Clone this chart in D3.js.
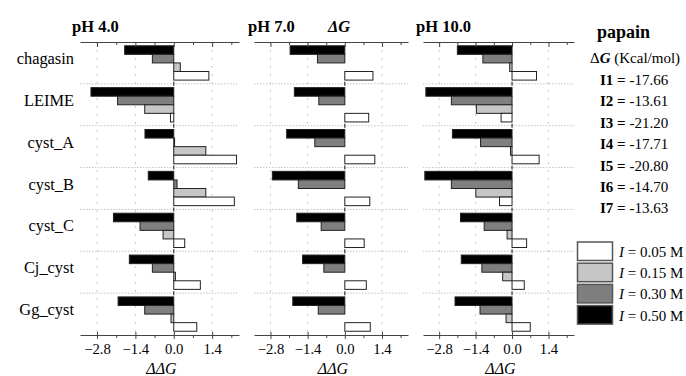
<!DOCTYPE html>
<html>
<head>
<meta charset="utf-8">
<script src="https://cdn.jsdelivr.net/npm/d3@7"></script>
<style>
  html, body { margin: 0; padding: 0; background: #fff; }
  svg { display: block; font-family: "Liberation Serif", "Times New Roman", serif; }
</style>
</head>
<body>
<svg id="chart" width="686" height="376"></svg>
<script>
// Inhibitor categories (top to bottom)
const categories = ["chagasin", "LEIME", "cyst_A", "cyst_B", "cyst_C", "Cj_cyst", "Gg_cyst"];
// Ionic strengths, in the order the bars stack inside each group
const ionicStrengths = ["0.50", "0.30", "0.15", "0.05"];
const panelTitles = ["pH 4.0", "pH 7.0", "pH 10.0"];
const majorTicks = [-2.8, -1.4, 0.0, 1.4];
const minorTicks = [-2.1, -0.7, 0.7, 2.1];

// ΔΔG values (kcal/mol), one array per pH and ionic strength
const pH4_050 = [-1.79, -3.02, -1.05, -0.93, -2.20, -1.62, -2.03];
const pH4_030 = [-0.78, -2.05, 0.03, 0.12, -1.23, -0.78, -1.06];
const pH4_015 = [0.24, -1.06, 1.17, 1.17, -0.39, 0.06, -0.10];
const pH4_005 = [1.28, -0.12, 2.29, 2.21, 0.40, 0.97, 0.84];

const pH7_050 = [-2.06, -1.90, -2.19, -2.73, -1.81, -1.59, -1.96];
const pH7_030 = [-1.03, -0.98, -1.13, -1.75, -0.89, -0.79, -1.00];
const pH7_015 = [0, 0, 0, 0, 0, 0, 0];
const pH7_005 = [1.06, 0.90, 1.13, 0.94, 0.73, 0.81, 0.96];

const pH10_050 = [-2.10, -3.31, -2.29, -3.35, -1.98, -1.95, -2.19];
const pH10_030 = [-1.12, -2.33, -1.21, -2.33, -1.07, -1.16, -1.23];
const pH10_015 = [-0.09, -1.37, -0.06, -1.39, -0.19, -0.36, -0.23];
const pH10_005 = [0.94, -0.42, 1.04, -0.48, 0.56, 0.47, 0.70];

// Binding free energies of papain with each inhibitor
const inhibitorLabels = ["I1", "I2", "I3", "I4", "I5", "I6", "I7"];
const bindingEnergies = ["-17.66", "-13.61", "-21.20", "-17.71", "-20.80", "-14.70", "-13.63"];

const panelSeries = [
  [pH4_050, pH4_030, pH4_015, pH4_005],
  [pH7_050, pH7_030, pH7_015, pH7_005],
  [pH10_050, pH10_030, pH10_015, pH10_005]
];

const fills = { "0.50": "#000000", "0.30": "#7f7f7f", "0.15": "#c6c6c6", "0.05": "#ffffff" };
const legendOrder = ["0.05", "0.15", "0.30", "0.50"];

const svg = d3.select("#chart");
const plotTop = 42, plotBottom = 335;
const panelRanges = [[80, 239], [254, 408], [423, 574]];
const titleX = [72, 248, 416];
const xDomain = [-3.42, 2.38];

const y = d3.scaleBand().domain(categories).range([plotTop, plotBottom]).padding(0);
const yInner = d3.scaleBand().domain(ionicStrengths).range([0, y.bandwidth()])
  .paddingInner(0).paddingOuter(0.44);

panelSeries.forEach((series, p) => {
  const x = d3.scaleLinear().domain(xDomain).range(panelRanges[p]);
  const g = svg.append("g");

  // horizontal dotted separators between groups
  g.selectAll("line.sep").data(categories.slice(1)).join("line")
    .attr("x1", x.range()[0]).attr("x2", x.range()[1])
    .attr("y1", d => y(d)).attr("y2", d => y(d))
    .attr("stroke", "#c4c4c4").attr("stroke-width", 1)
    .attr("stroke-dasharray", "1.5,1.5");

  // vertical dashed gridlines at the non-zero major ticks
  g.selectAll("line.vgrid").data(majorTicks.filter(t => t !== 0)).join("line")
    .attr("x1", d => x(d)).attr("x2", d => x(d))
    .attr("y1", plotTop).attr("y2", plotBottom)
    .attr("stroke", "#c8c8c8").attr("stroke-width", 1)
    .attr("stroke-dasharray", "2,6");

  // bars
  const rows = [];
  categories.forEach((c, i) => {
    ionicStrengths.forEach((s, k) => {
      rows.push({ cat: c, ion: s, value: series[k][i] });
    });
  });
  g.selectAll("rect.bar").data(rows.filter(r => r.value !== 0)).join("rect")
    .attr("x", d => Math.min(x(0), x(d.value)))
    .attr("width", d => Math.abs(x(d.value) - x(0)))
    .attr("y", d => y(d.cat) + yInner(d.ion))
    .attr("height", yInner.bandwidth())
    .attr("fill", d => fills[d.ion])
    .attr("stroke", "#222")
    .attr("stroke-width", 1);

  // small marks on the zero line at group boundaries
  g.selectAll("line.zmark").data(categories.slice(1)).join("line")
    .attr("x1", x(0)).attr("x2", x(0))
    .attr("y1", d => y(d) - 2).attr("y2", d => y(d) + 2)
    .attr("stroke", "#333").attr("stroke-width", 1.2);

  // top axis (ticks point into the plot)
  g.append("g").attr("transform", `translate(0,${plotTop})`)
    .call(d3.axisTop(x).tickValues(majorTicks).tickSizeInner(-5).tickSizeOuter(0).tickFormat(""));
  g.append("g").attr("transform", `translate(0,${plotTop})`)
    .call(d3.axisTop(x).tickValues(minorTicks).tickSizeInner(-3).tickSizeOuter(0).tickFormat(""))
    .select(".domain").remove();

  // bottom axis with labels
  const botAxis = g.append("g").attr("transform", `translate(0,${plotBottom})`)
    .call(d3.axisBottom(x).tickValues(majorTicks).tickSizeInner(4).tickSizeOuter(0)
      .tickFormat(d3.format(".1f")));
  botAxis.selectAll(".tick line").attr("y1", -3);
  g.append("g").attr("transform", `translate(0,${plotBottom})`)
    .call(d3.axisBottom(x).tickValues(minorTicks).tickSizeInner(3).tickSizeOuter(0).tickFormat(""))
    .select(".domain").remove();

  g.selectAll(".domain").attr("stroke", "#444").attr("stroke-width", 1.2);
  g.selectAll(".tick line").attr("stroke", "#444");
  botAxis.selectAll(".tick text")
    .attr("font-family", "Liberation Serif").attr("font-size", 14.7)
    .attr("fill", "#000").attr("y", 9).attr("dy", "0.71em");

  // axis title
  g.append("text")
    .attr("x", (x.range()[0] + x.range()[1]) / 2 + 2).attr("y", 374)
    .attr("text-anchor", "middle").attr("font-size", 16).attr("font-style", "italic")
    .text("ΔΔG");

  // panel title
  g.append("text")
    .attr("x", titleX[p]).attr("y", 32)
    .attr("font-size", 16.5).attr("font-weight", "bold")
    .text(panelTitles[p]);
});

// ΔG heading above the middle panel
svg.append("text").attr("x", 328).attr("y", 32)
  .attr("font-size", 16.5).attr("font-weight", "bold").attr("font-style", "italic")
  .text("ΔG");

// category labels
svg.append("g").selectAll("text").data(categories).join("text")
  .attr("x", 74).attr("y", d => y(d) + y.bandwidth() / 2 + 1)
  .attr("text-anchor", "end").attr("font-size", 16.4)
  .text(d => d);

// papain binding energy block
const info = svg.append("g");
info.append("text").attr("x", 597).attr("y", 38)
  .attr("font-size", 18).attr("font-weight", "bold").text("papain");
const unit = info.append("text").attr("x", 590).attr("y", 63).attr("font-size", 15);
unit.append("tspan").text("Δ");
unit.append("tspan").attr("font-style", "italic").attr("font-weight", "bold").text("G");
unit.append("tspan").text(" (Kcal/mol)");
inhibitorLabels.forEach((lab, i) => {
  const t = info.append("text").attr("x", 600).attr("y", 85 + i * 21.4).attr("font-size", 15);
  t.append("tspan").attr("font-weight", "bold").text(lab + " = ");
  t.append("tspan").text(bindingEnergies[i]);
});

// ionic strength legend
const legend = svg.append("g");
legendOrder.forEach((s, i) => {
  const yy = 242 + i * 21.2;
  legend.append("rect").attr("x", 577.5).attr("y", yy).attr("width", 35).attr("height", 18.5)
    .attr("fill", fills[s]).attr("stroke", "#555").attr("stroke-width", 1.5);
  const t = legend.append("text").attr("x", 619).attr("y", yy + 15).attr("font-size", 15);
  t.append("tspan").attr("font-style", "italic").text("I");
  t.append("tspan").text(" = " + s + " M");
});
</script>
</body>
</html>
